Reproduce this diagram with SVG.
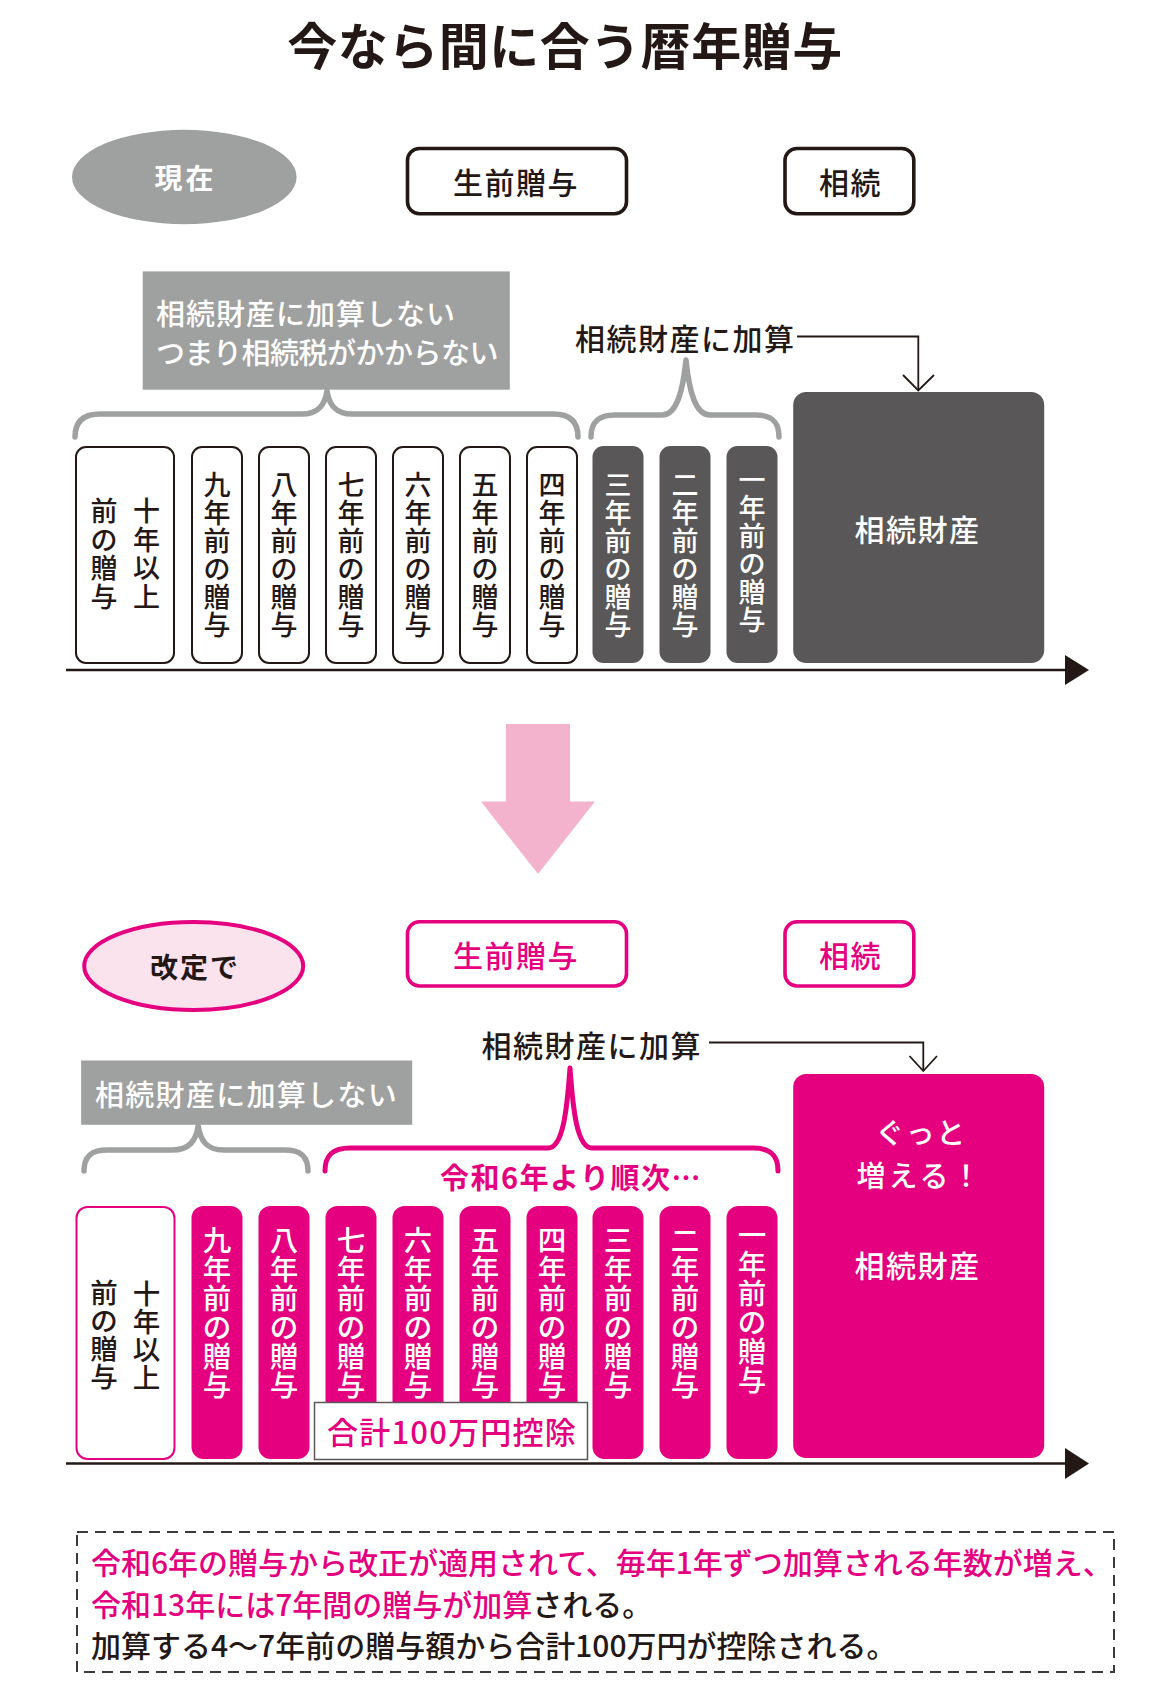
<svg xmlns="http://www.w3.org/2000/svg" width="1149" height="1696" viewBox="0 0 1149 1696">
<defs>
<style>
text { font-family: 'Noto Sans CJK JP','Noto Sans CJK SC','Noto Sans',sans-serif; font-weight:500; }
.title { font-size:50px; font-weight:700; fill:#231815; letter-spacing:0.5px; text-anchor:middle; }
.lbl { font-size:30px; fill:#231815; letter-spacing:1.5px; }
.mid { text-anchor:middle; }
.bold { font-weight:700; }
.pk { fill:#e4007f; }
.wt { fill:#ffffff; }
.bk { fill:#231815; }
.v { font-size:27px; text-anchor:middle; }
.v2 { font-size:28.5px; text-anchor:middle; }
.boxw { fill:#ffffff; stroke:#231815; stroke-width:2; }
.boxwp { fill:#ffffff; stroke:#e4007f; stroke-width:2; }
.boxd { fill:#595757; }
.boxp { fill:#e4007f; }
.tag { fill:#ffffff; stroke:#231815; stroke-width:3.6; }
.tagp { fill:#ffffff; stroke:#e4007f; stroke-width:3.6; }
.graybox { fill:#9fa0a0; }
.brace { fill:none; stroke:#9fa0a0; stroke-width:5.5; stroke-linecap:round; stroke-linejoin:round; }
.bracep { fill:none; stroke:#e4007f; stroke-width:5; stroke-linecap:round; stroke-linejoin:round; }
.conn { fill:none; stroke:#231815; stroke-width:1.8; }
.axis { stroke:#231815; stroke-width:2.5; }
.note { font-size:30px; }
</style>
</defs>
<rect width="1149" height="1696" fill="#ffffff"/>

<g id="title">
  <text class="title" x="565" y="65">今なら間に合う暦年贈与</text>
</g>

<!-- ===== Current section ===== -->
<g id="now-label">
  <ellipse cx="184.3" cy="177" rx="112.3" ry="47.2" fill="#9fa0a0"/>
  <text class="wt bold mid" x="185.5" y="189" font-size="28" letter-spacing="3">現在</text>
</g>
<g id="now-gift-tag">
  <rect class="tag" x="407.5" y="148.5" width="219" height="65.3" rx="12"/>
  <text class="bk mid" x="516" y="194" font-size="30" letter-spacing="1.5">生前贈与</text>
</g>
<g id="now-inherit-tag">
  <rect class="tag" x="785" y="148.5" width="128.8" height="65.3" rx="12"/>
  <text class="bk mid" x="850.5" y="194" font-size="30" letter-spacing="1.5">相続</text>
</g>
<g id="now-notadd">
  <rect class="graybox" x="142.7" y="271.4" width="367.1" height="118.3"/>
  <text class="wt" x="156" y="325" font-size="29" letter-spacing="1">相続財産に加算しない</text>
  <text class="wt" x="156" y="364" font-size="29" letter-spacing="-0.5">つまり相続税がかからない</text>
</g>
<g id="now-add-label">
  <text class="lbl" x="575" y="350">相続財産に加算</text>
</g>

<g id="now-gifts">
  <g id="now-y10">
    <rect class="boxw" x="76" y="447" width="98" height="216" rx="10"/>
    <text class="v bk" x="146.6 146.6 146.6 146.6" y="521 549.5 578 606.5">十年以上</text>
    <text class="v bk" x="104 104 104 104" y="521 549.5 578 606.5">前の贈与</text>
  </g>
  <g id="now-y9"><rect class="boxw" x="192" y="447" width="50" height="216" rx="10"/>
    <text class="v bk" x="217 217 217 217 217 217" y="494.5 522.5 550.5 578.5 606.5 634.5">九年前の贈与</text></g>
  <g id="now-y8"><rect class="boxw" x="259" y="447" width="50" height="216" rx="10"/>
    <text class="v bk" x="284 284 284 284 284 284" y="494.5 522.5 550.5 578.5 606.5 634.5">八年前の贈与</text></g>
  <g id="now-y7"><rect class="boxw" x="326" y="447" width="50" height="216" rx="10"/>
    <text class="v bk" x="351 351 351 351 351 351" y="494.5 522.5 550.5 578.5 606.5 634.5">七年前の贈与</text></g>
  <g id="now-y6"><rect class="boxw" x="393" y="447" width="50" height="216" rx="10"/>
    <text class="v bk" x="418 418 418 418 418 418" y="494.5 522.5 550.5 578.5 606.5 634.5">六年前の贈与</text></g>
  <g id="now-y5"><rect class="boxw" x="460" y="447" width="50" height="216" rx="10"/>
    <text class="v bk" x="485 485 485 485 485 485" y="494.5 522.5 550.5 578.5 606.5 634.5">五年前の贈与</text></g>
  <g id="now-y4"><rect class="boxw" x="527" y="447" width="50" height="216" rx="10"/>
    <text class="v bk" x="552 552 552 552 552 552" y="494.5 522.5 550.5 578.5 606.5 634.5">四年前の贈与</text></g>
  <g id="now-y3"><rect class="boxd" x="592.5" y="446" width="51" height="217" rx="11"/>
    <text class="v wt" x="618 618 618 618 618 618" y="494.5 522.5 550.5 578.5 606.5 634.5">三年前の贈与</text></g>
  <g id="now-y2"><rect class="boxd" x="659.5" y="446" width="51" height="217" rx="11"/>
    <text class="v wt" x="685 685 685 685 685 685" y="494.5 522.5 550.5 578.5 606.5 634.5">二年前の贈与</text></g>
  <g id="now-y1"><rect class="boxd" x="726.5" y="446" width="51" height="217" rx="11"/>
    <text class="v wt" x="752 752 752 752 752 752" y="489.5 517.5 545.5 573.5 601.5 629.5">一年前の贈与</text></g>
</g>
<g id="now-estate">
  <rect class="boxd" x="793.2" y="392" width="251" height="271" rx="13"/>
  <text class="wt mid" x="917.5" y="541" font-size="30" letter-spacing="1.5">相続財産</text>
</g>

<!-- ===== Arrow between sections ===== -->
<g id="transition-arrow">
  <polygon points="506,724 570,724 570,801.5 595,801.5 538,874 481,801.5 506,801.5" fill="#f3b3cd"/>
</g>

<!-- ===== Revised section ===== -->
<g id="rev-label">
  <ellipse cx="193.7" cy="966" rx="109.5" ry="44" fill="#fbe3ee" stroke="#e4007f" stroke-width="4"/>
  <text class="bk bold mid" x="195" y="978" font-size="28" letter-spacing="2">改定で</text>
</g>
<g id="rev-gift-tag">
  <rect class="tagp" x="407.5" y="921.8" width="219" height="64.2" rx="12"/>
  <text class="pk mid" x="516" y="967" font-size="30" letter-spacing="1.5">生前贈与</text>
</g>
<g id="rev-inherit-tag">
  <rect class="tagp" x="785" y="921.8" width="128.8" height="64.2" rx="12"/>
  <text class="pk mid" x="850.5" y="967" font-size="30" letter-spacing="1.5">相続</text>
</g>
<g id="rev-add-label">
  <text class="lbl" x="481.4" y="1057">相続財産に加算</text>
</g>
<g id="rev-notadd">
  <rect class="graybox" x="81.1" y="1060.5" width="331.1" height="64.3"/>
  <text class="wt" x="95" y="1106" font-size="29" letter-spacing="1.3">相続財産に加算しない</text>
</g>
<g id="rev-sequence-label">
  <text class="pk bold" x="440" y="1189" font-size="29" letter-spacing="1.5">令和6年より順次…</text>
</g>

<g id="rev-gifts">
  <g id="rev-y10">
    <rect class="boxwp" x="76.5" y="1207" width="98" height="252" rx="11"/>
    <text class="bk" font-size="27.5" text-anchor="middle" x="146.6 146.6 146.6 146.6" y="1304 1332 1360 1388">十年以上</text>
    <text class="bk" font-size="27.5" text-anchor="middle" x="104 104 104 104" y="1303 1331 1359 1387">前の贈与</text>
  </g>
  <g id="rev-y9"><rect class="boxp" x="191.5" y="1206" width="51" height="253" rx="12"/>
    <text class="v2 wt" x="217 217 217 217 217 217" y="1250.5 1279.5 1308.5 1337.5 1366.5 1395.5">九年前の贈与</text></g>
  <g id="rev-y8"><rect class="boxp" x="258.5" y="1206" width="51" height="253" rx="12"/>
    <text class="v2 wt" x="284 284 284 284 284 284" y="1250.5 1279.5 1308.5 1337.5 1366.5 1395.5">八年前の贈与</text></g>
  <g id="rev-y7"><rect class="boxp" x="325.5" y="1206" width="51" height="253" rx="12"/>
    <text class="v2 wt" x="351 351 351 351 351 351" y="1250.5 1279.5 1308.5 1337.5 1366.5 1395.5">七年前の贈与</text></g>
  <g id="rev-y6"><rect class="boxp" x="392.5" y="1206" width="51" height="253" rx="12"/>
    <text class="v2 wt" x="418 418 418 418 418 418" y="1250.5 1279.5 1308.5 1337.5 1366.5 1395.5">六年前の贈与</text></g>
  <g id="rev-y5"><rect class="boxp" x="459.5" y="1206" width="51" height="253" rx="12"/>
    <text class="v2 wt" x="485 485 485 485 485 485" y="1250.5 1279.5 1308.5 1337.5 1366.5 1395.5">五年前の贈与</text></g>
  <g id="rev-y4"><rect class="boxp" x="526.5" y="1206" width="51" height="253" rx="12"/>
    <text class="v2 wt" x="552 552 552 552 552 552" y="1250.5 1279.5 1308.5 1337.5 1366.5 1395.5">四年前の贈与</text></g>
  <g id="rev-y3"><rect class="boxp" x="592.5" y="1206" width="51" height="253" rx="12"/>
    <text class="v2 wt" x="618 618 618 618 618 618" y="1250.5 1279.5 1308.5 1337.5 1366.5 1395.5">三年前の贈与</text></g>
  <g id="rev-y2"><rect class="boxp" x="659.5" y="1206" width="51" height="253" rx="12"/>
    <text class="v2 wt" x="685 685 685 685 685 685" y="1250.5 1279.5 1308.5 1337.5 1366.5 1395.5">二年前の贈与</text></g>
  <g id="rev-y1"><rect class="boxp" x="726.5" y="1206" width="51" height="253" rx="12"/>
    <text class="v2 wt" x="752 752 752 752 752 752" y="1245.5 1274.5 1303.5 1332.5 1361.5 1390.5">一年前の贈与</text></g>
</g>
<g id="rev-deduction">
  <rect x="314.5" y="1402.5" width="273" height="57" fill="#ffffff" stroke="#595757" stroke-width="1.5"/>
  <text class="pk mid" x="452" y="1444" font-size="31" letter-spacing="1.2">合計100万円控除</text>
</g>
<g id="rev-estate">
  <rect class="boxp" x="793.2" y="1074" width="251" height="384" rx="13"/>
  <text class="wt mid" x="921" y="1144" font-size="29" letter-spacing="1.5">ぐっと</text>
  <text class="wt mid" x="920" y="1187" font-size="29" letter-spacing="3">増える！</text>
  <text class="wt mid" x="917.5" y="1277" font-size="30" letter-spacing="1.5">相続財産</text>
</g>

<g id="note">
  <rect x="77" y="1532" width="1037" height="140" fill="none" stroke="#3e3a39" stroke-width="2" stroke-dasharray="11 7"/>
  <text class="note pk" x="91" y="1574">令和6年の贈与から改正が適用されて、毎年1年ずつ加算される年数が増え、</text>
  <text class="note pk" x="91" y="1616">令和13年には7年間の贈与が加算<tspan class="bk">される。</tspan></text>
  <text class="note bk" x="91" y="1657">加算する4〜7年前の贈与額から合計100万円が控除される。</text>
</g>

<g id="connectors">
  <!-- timeline axes -->
  <line class="axis" x1="66" y1="670" x2="1068" y2="670"/>
  <polygon points="1065,655 1089,670 1065,685" fill="#231815"/>
  <line class="axis" x1="66" y1="1463.5" x2="1068" y2="1463.5"/>
  <polygon points="1065,1448 1089,1463.5 1065,1479" fill="#231815"/>
  <!-- braces -->
  <path class="brace" d="M75,437 C75,421 84,414 100,414 L302,414 C319,414 325,404 327,391 C329,404 335,414 352,414 L553,414 C569,414 578,421 578,437"/>
  <path class="brace" d="M591,437 C591,421 600,415 615,415 L662,415 C677,415 683,390 686,360 C689,390 695,415 710,415 L756,415 C771,415 779,421 779,437"/>
  <path class="brace" d="M84,1171 C84,1156 92,1150 107,1150 L172,1150 C190,1150 196,1140 198.2,1126 C200.4,1140 206,1150 224,1150 L285,1150 C300,1150 308,1156 308,1171"/>
  <path class="bracep" d="M325,1171 C325,1155 333,1148 350,1148 L548,1148 C563,1148 567,1110 570,1068 C573,1110 577,1148 592,1148 L753,1148 C770,1148 778,1155 778,1171"/>
  <!-- arrows to estate -->
  <polyline class="conn" points="797,336.5 918.3,336.5 918.3,390"/>
  <polyline class="conn" points="903,375 918.3,390.5 934,375"/>
  <polyline class="conn" points="709,1042.5 923.3,1042.5 923.3,1071"/>
  <polyline class="conn" points="909.5,1056 923.3,1071 937,1056"/>
</g>
</svg>
